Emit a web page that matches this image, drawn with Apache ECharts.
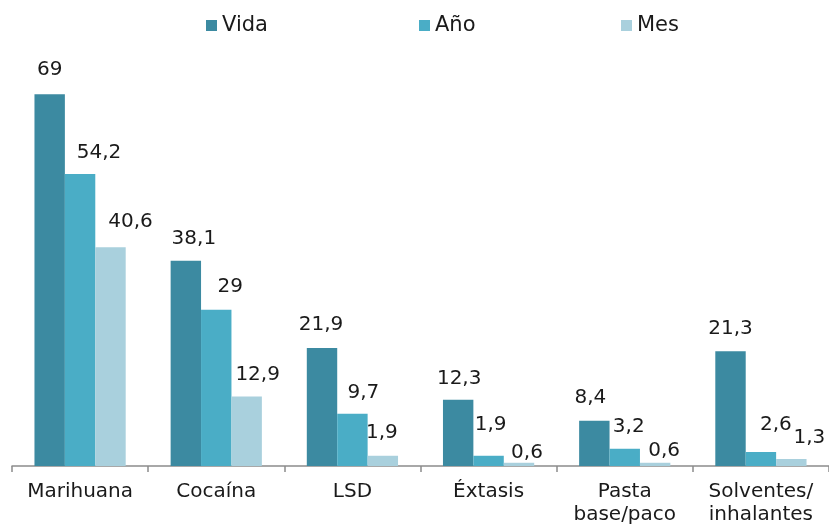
<!DOCTYPE html>
<html>
<head>
<meta charset="utf-8">
<script src="https://cdn.jsdelivr.net/npm/echarts@6/dist/echarts.min.js"></script>
<style>
html,body{margin:0;padding:0;background:#fff;}
#c{width:829px;height:526px;}
</style>
</head>
<body>
<div id="c"></div>
<script>
const categories = ['Marihuana', 'Cocaína', 'LSD', 'Éxtasis', 'Pasta\nbase/paco', 'Solventes/\ninhalantes'];
const seriesNames = ['Vida', 'Año', 'Mes'];
const vida = [69, 38.1, 21.9, 12.3, 8.4, 21.3];
const anio = [54.2, 29, 9.7, 1.9, 3.2, 2.6];
const mes = [40.6, 12.9, 1.9, 0.6, 0.6, 1.3];

// label nudges (dx, dy) as placed in the original
const labelShift = [
  [[0,-2],[8,0],[-1,-1],[1,1],[-4,-1],[0,0]],
  [[19,1],[14,-1],[11,1],[2,-9],[4,0],[15,-5]],
  [[20,-3],[11,0],[-1,-1],[8,12],[9,10],[18,1]]
];
const colors = ['#3C8AA1', '#4AADC6', '#A9D0DD'];
const font = 'DejaVu Sans';
const fmt = v => String(v).replace('.', ',');

const values = [vida, anio, mes];
const series = values.map((arr, si) => ({
  name: seriesNames[si],
  type: 'bar',
  barGap: '0%',
  barCategoryGap: '33%',
  itemStyle: { color: colors[si] },
  data: arr.map((v, i) => ({
    value: v,
    label: { offset: labelShift[si][i] }
  })),
  label: {
    show: true,
    position: 'top',
    distance: 12,
    fontFamily: font,
    fontSize: 20,
    color: '#1a1a1a',
    formatter: p => fmt(p.value)
  }
}));

const legendLefts = [201, 414, 616];
const legends = seriesNames.map((n, i) => ({
  data: [n],
  left: legendLefts[i],
  top: 10,
  itemWidth: 11,
  itemHeight: 11,
  itemGap: 5,
  icon: 'rect',
  textStyle: { fontFamily: font, fontSize: 21, color: '#1a1a1a' }
}));

const chart = echarts.init(document.getElementById('c'), null, { renderer: 'canvas' });
chart.setOption({
  animation: false,
  color: colors,
  legend: legends,
  grid: { left: 12, right: -7, top: 35, bottom: 57, containLabel: false },
  xAxis: {
    type: 'category',
    data: categories,
    axisLine: { lineStyle: { color: '#8c8c8c', width: 1.5 } },
    axisTick: { show: true, length: 6, lineStyle: { color: '#8c8c8c', width: 1.5 } },
    axisLabel: { fontFamily: font, fontSize: 20, color: '#1a1a1a', margin: 14, lineHeight: 23, interval: 0 }
  },
  yAxis: {
    type: 'value',
    min: 0,
    max: 80,
    show: false,
    splitLine: { show: false }
  },
  series: series
});
</script>
</body>
</html>
